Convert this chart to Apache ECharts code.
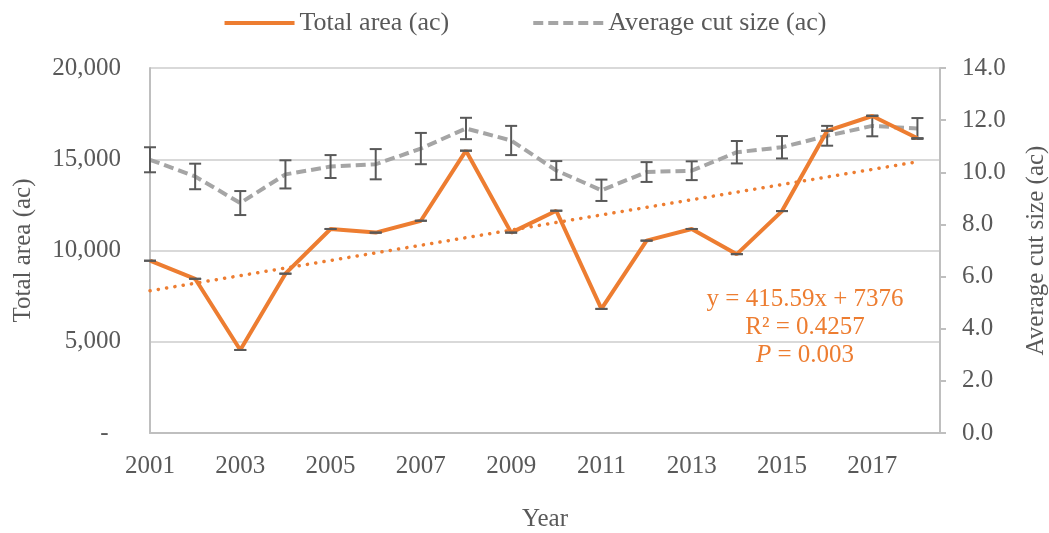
<!DOCTYPE html>
<html>
<head>
<meta charset="utf-8">
<script src="https://cdn.jsdelivr.net/npm/echarts@6/dist/echarts.min.js"></script>
<style>
    html, body { margin: 0; padding: 0; background: #fff; }
    #chart { width: 1049px; height: 533px; }
</style>
</head>
<body>
<div id="chart"></div>
<script>
// data
const years = [2001, 2002, 2003, 2004, 2005, 2006, 2007, 2008, 2009, 2010, 2011, 2012, 2013, 2014, 2015, 2016, 2017, 2018];
const totalArea = [9440, 8450, 4550, 8730, 11180, 10980, 11630, 15470, 10980, 12180, 6800, 10540, 11180, 9800, 12160, 16560, 17370, 16150];
const avgCut = [10.48, 9.84, 8.82, 9.92, 10.22, 10.31, 10.91, 11.68, 11.22, 10.07, 9.31, 10.01, 10.06, 10.77, 10.96, 11.40, 11.78, 11.68];
const avgCutErr = [0.48, 0.49, 0.46, 0.54, 0.44, 0.58, 0.60, 0.41, 0.56, 0.36, 0.41, 0.38, 0.36, 0.43, 0.43, 0.38, 0.40, 0.40];
// linear trend ends (2001 and 2018)
const trendEnds = [7790, 14860];
const trendText = ["y = 415.59x + 7376", "R² = 0.4257", "P = 0.003"];

const FONT = "Liberation Serif";
const FS = 25;
const TXT = "#595959";

const chart = echarts.init(document.getElementById("chart"));

// draws an error bar: vertical stem with caps
function errorBar(params, api) {
    const x = api.value(0);
    const lo = api.coord([x, api.value(1)]);
    const hi = api.coord([x, api.value(2)]);
    const half = 6;
    const style = { stroke: "#595959", lineWidth: 2 };
    const kids = [
        { type: "line", shape: { x1: hi[0] - half, y1: hi[1], x2: hi[0] + half, y2: hi[1] }, style: style },
        { type: "line", shape: { x1: lo[0] - half, y1: lo[1], x2: lo[0] + half, y2: lo[1] }, style: style }
    ];
    if (lo[1] - hi[1] > 1) {
        kids.push({ type: "line", shape: { x1: hi[0], y1: hi[1], x2: lo[0], y2: lo[1] }, style: style });
    }
    return { type: "group", children: kids };
}

chart.setOption({
    backgroundColor: "#fff",
    textStyle: { fontFamily: FONT, color: TXT },
    animation: false,
    grid: { left: 150, right: 109, top: 68, bottom: 100, containLabel: false, outerBoundsMode: "none" },
    legend: {
        data: ["Total area (ac)", "Average cut size (ac)"],
        top: 5,
        left: "center",
        itemWidth: 70,
        itemHeight: 14,
        itemGap: 82,
        itemStyle: { opacity: 0 },
        lineStyle: { width: 4 },
        textStyle: { fontFamily: FONT, fontSize: 26, color: TXT }
    },
    xAxis: {
        type: "value",
        min: 2001,
        max: 2018.5,
        interval: 2,
        name: "Year",
        nameLocation: "middle",
        nameGap: 74,
        nameTextStyle: { fontFamily: FONT, fontSize: FS, color: TXT },
        axisLine: { show: true, lineStyle: { color: "#BFBFBF", width: 2 } },
        axisTick: { show: false },
        splitLine: { show: false },
        axisLabel: {
            showMaxLabel: false,
            margin: 21,
            fontFamily: FONT,
            fontSize: FS,
            color: TXT,
            formatter: function (v) { return String(v); }
        }
    },
    yAxis: [
        {
            type: "value",
            min: 0,
            max: 20000,
            interval: 5000,
            name: "Total area (ac)",
            nameLocation: "middle",
            nameRotate: 90,
            nameGap: 114,
            nameTextStyle: { fontFamily: FONT, fontSize: FS, color: TXT },
            axisLine: { show: true, lineStyle: { color: "#BFBFBF", width: 2 } },
            axisTick: { show: false },
            splitLine: { show: true, lineStyle: { color: "#D9D9D9", width: 2 } },
            axisLabel: {
                margin: 29,
                fontFamily: FONT,
                fontSize: FS,
                color: TXT,
                formatter: function (v) {
                    return v === 0 ? "-  " : v.toLocaleString("en-US");
                }
            }
        },
        {
            type: "value",
            min: 0,
            max: 14,
            interval: 2,
            position: "right",
            name: "Average cut size (ac)",
            nameLocation: "middle",
            nameRotate: 90,
            nameGap: 84,
            nameTextStyle: { fontFamily: FONT, fontSize: FS, color: TXT },
            axisLine: { show: true, lineStyle: { color: "#BFBFBF", width: 2 } },
            axisTick: { show: true, length: 6, lineStyle: { color: "#BFBFBF", width: 2 } },
            splitLine: { show: false },
            axisLabel: {
                margin: 22,
                fontFamily: FONT,
                fontSize: FS,
                color: TXT,
                formatter: function (v) { return v.toFixed(1); }
            }
        }
    ],
    series: [
        {
            name: "Average cut size (ac)",
            type: "line",
            yAxisIndex: 1,
            data: years.map((y, i) => [y, avgCut[i]]),
            symbol: "none",
            lineStyle: { color: "#A5A5A5", width: 4, type: [10, 5] },
            itemStyle: { color: "#A5A5A5" },
            z: 2
        },
        {
            name: "cut err",
            type: "custom",
            yAxisIndex: 1,
            renderItem: errorBar,
            data: years.map((y, i) => [y, avgCut[i] - avgCutErr[i], avgCut[i] + avgCutErr[i]]),
            z: 3
        },
        {
            name: "trend",
            type: "line",
            data: [[years[0], trendEnds[0]], [years[years.length - 1], trendEnds[1]]],
            symbol: "none",
            lineStyle: { color: "#ED7D31", width: 3.5, type: [0.1, 8.3], cap: "round" },
            z: 2
        },
        {
            name: "Total area (ac)",
            type: "line",
            data: years.map((y, i) => [y, totalArea[i]]),
            symbol: "none",
            lineStyle: { color: "#ED7D31", width: 4 },
            itemStyle: { color: "#ED7D31" },
            z: 4
        },
        {
            name: "area err",
            type: "custom",
            renderItem: errorBar,
            data: years.map((y, i) => [y, totalArea[i], totalArea[i]]),
            z: 5
        }
    ],
    graphic: [
        {
            type: "text",
            z: 10,
            style: {
                x: 805,
                y: 285,
                text: trendText[0] + "\n" + trendText[1] + "\n{i|P} = 0.003",
                fill: "#ED7D31",
                font: FS + "px " + FONT,
                align: "center",
                lineHeight: 28,
                rich: {
                    i: { fontStyle: "italic", fontFamily: FONT, fontSize: FS, fill: "#ED7D31" }
                }
            }
        }
    ]
});
</script>
</body>
</html>
